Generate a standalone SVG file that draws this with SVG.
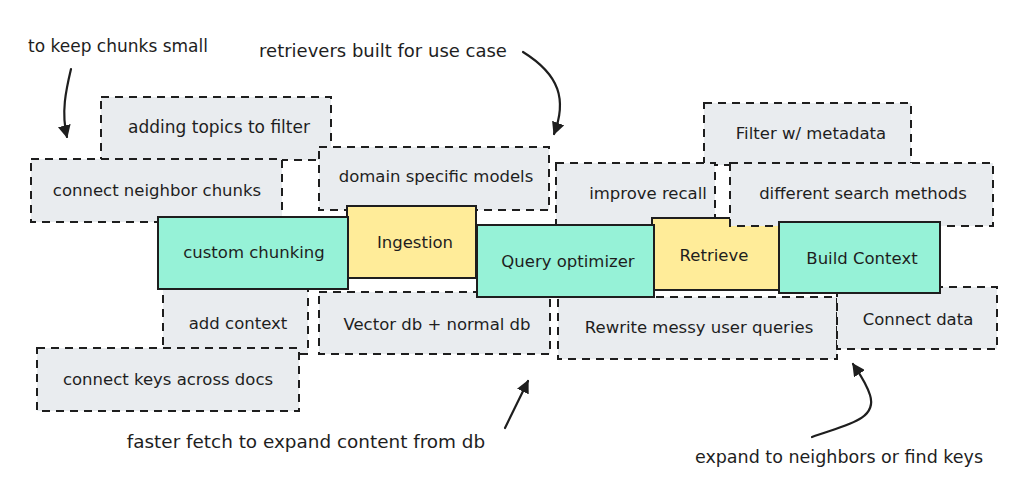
<svg xmlns="http://www.w3.org/2000/svg" width="1024" height="499" viewBox="0 0 1024 499">
<style>
text{font-family:"DejaVu Sans","Liberation Sans",sans-serif;font-size:16.5px;fill:#1e1e1e;text-anchor:middle;dominant-baseline:central}
.n{font-size:17.5px}
.d{fill:#e9ecef;stroke:#1e1e1e;stroke-width:2;stroke-dasharray:8 6}
.t{fill:#96f2d7;stroke:#1e1e1e;stroke-width:2}
.y{fill:#ffec99;stroke:#1e1e1e;stroke-width:2}
.a{fill:none;stroke:#1e1e1e;stroke-width:2.2;stroke-linecap:round}
</style>
<defs>
<marker id="ah" viewBox="0 0 10 10" refX="9" refY="5" markerWidth="13" markerHeight="13" markerUnits="userSpaceOnUse" orient="auto">
<path d="M0,0 L10,5 L0,10 Z" fill="#1e1e1e"/>
</marker>
</defs>
<rect width="1024" height="499" fill="#ffffff"/>

<g id="n-adding-topics"><rect class="d" x="101" y="97" width="230" height="63"/><text x="219" y="127" style="font-size:17px">adding topics to filter</text></g>
<g id="n-connect-neighbor"><rect class="d" x="31" y="159" width="251" height="63"/><text x="157" y="190">connect neighbor chunks</text></g>
<g id="n-domain"><rect class="d" x="319" y="147" width="230" height="63"/><text x="436" y="176">domain specific models</text></g>
<g id="n-filter"><rect class="d" x="704" y="103" width="207" height="62"/><text x="811" y="133">Filter w/ metadata</text></g>
<g id="n-improve"><rect class="d" x="556" y="163" width="159" height="62"/><text x="648" y="193">improve recall</text></g>
<g id="n-add-context"><rect class="d" x="163" y="289" width="145" height="65"/><text x="238" y="323">add context</text></g>
<g id="n-connect-keys"><rect class="d" x="37" y="348" width="262" height="63"/><text x="168" y="379">connect keys across docs</text></g>
<g id="n-vector"><rect class="d" x="319" y="292" width="231" height="62"/><text x="437" y="324">Vector db + normal db</text></g>
<g id="n-rewrite"><rect class="d" x="558" y="297" width="279" height="62"/><text x="699" y="327">Rewrite messy user queries</text></g>
<g id="n-connect-data"><rect class="d" x="837" y="287" width="160" height="62"/><text x="918" y="319">Connect data</text></g>

<g id="n-retrieve"><rect class="y" x="652" y="218" width="140" height="72"/><text x="714" y="255">Retrieve</text></g>
<g id="n-different"><rect class="d" x="730" y="163" width="263" height="63"/><text x="863" y="193">different search methods</text></g>
<g id="n-ingestion"><rect class="y" x="347" y="206" width="129" height="72"/><text x="415" y="242">Ingestion</text></g>
<g id="n-custom-chunking"><rect class="t" x="158" y="217" width="190" height="72"/><text x="254" y="252">custom chunking</text></g>
<g id="n-query-optimizer"><rect class="t" x="477" y="225" width="177" height="72"/><text x="568" y="261">Query optimizer</text></g>
<g id="n-build-context"><rect class="t" x="779" y="222" width="161" height="71"/><text x="862" y="258">Build Context</text></g>

<g id="labels">
<text class="n" x="118" y="46" style="font-size:17px">to keep chunks small</text>
<text class="n" x="383" y="50" style="font-size:18px">retrievers built for use case</text>
<text class="n" x="306" y="441" style="font-size:18.4px">faster fetch to expand content from db</text>
<text class="n" x="839" y="457">expand to neighbors or find keys</text>
</g>

<g id="connectors">
<path class="a" d="M71,69 C66,90 61,112 67,137" marker-end="url(#ah)"/>
<path class="a" d="M523,52 C560,75 567,100 554,134" marker-end="url(#ah)"/>
<path class="a" d="M505,428 L528,381" marker-end="url(#ah)"/>
<path class="a" d="M812,437 C845,425 878,420 870,395 C866,382 859,373 853,364" marker-end="url(#ah)"/>
</g>
</svg>
